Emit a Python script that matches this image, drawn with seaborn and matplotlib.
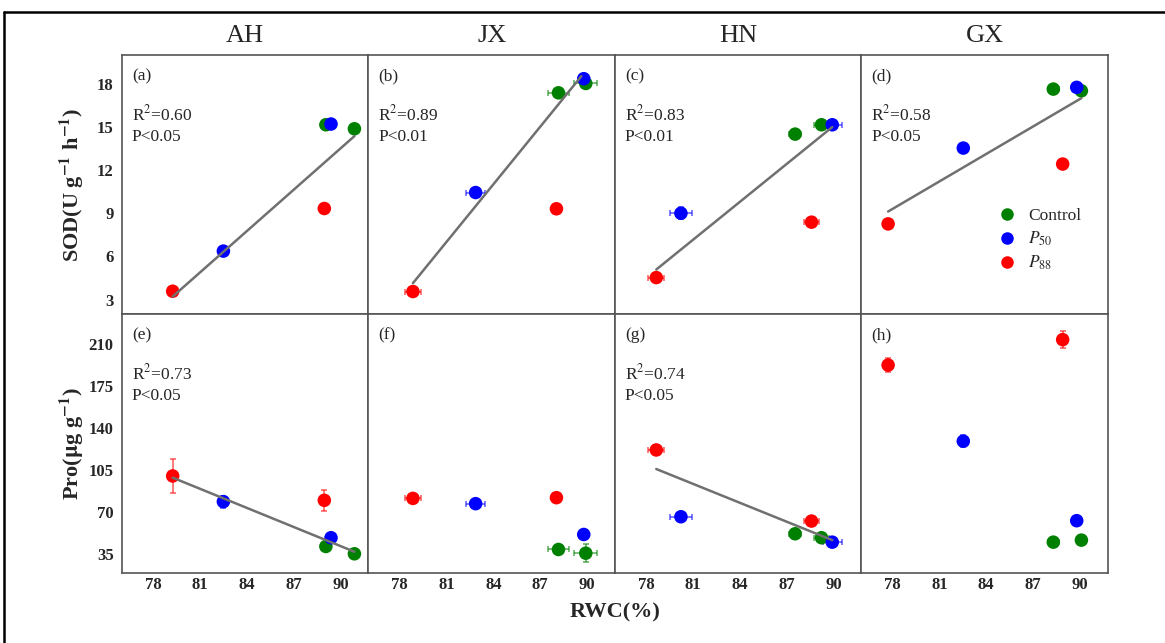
import numpy as np
import pandas as pd
import matplotlib
matplotlib.use("Agg")
import matplotlib.pyplot as plt
from matplotlib.lines import Line2D
import seaborn as sns

# ---------------- data ----------------
sites = ["AH", "JX", "HN", "GX"]
treatments = ["Control", "P50", "P88"]
legend_labels = ["Control", r"$P_{50}$", r"$P_{88}$"]
colors = ["#008000", "#0000ff", "#ff0000"]

# order inside each site: Control, Control, P50, P50, P88, P88
treatment_col = ["Control", "Control", "P50", "P50", "P88", "P88"]

rwc = [89.07, 90.90, 82.50, 89.40, 79.25, 88.97,   # AH
       88.18, 89.93, 82.87, 89.80, 78.85, 88.05,   # JX
       87.55, 89.24, 80.23, 89.93, 78.65, 88.60,   # HN
       88.30, 90.10, 82.53, 89.80, 77.71, 88.90]   # GX
rwc_err = [0.10, 0.10, 0.10, 0.10, 0.10, 0.10,
           0.65, 0.75, 0.60, 0.30, 0.50, 0.30,
           0.40, 0.45, 0.70, 0.60, 0.50, 0.45,
           0.35, 0.30, 0.30, 0.20, 0.30, 0.30]
sod = [15.15, 14.87, 6.37, 15.20, 3.58, 9.33,
       17.37, 18.02, 10.44, 18.35, 3.56, 9.31,
       14.50, 15.15, 9.00, 15.15, 4.53, 8.38,
       17.63, 17.51, 13.53, 17.75, 8.26, 12.42]
sod_err = [0.35, 0.10, 0.10, 0.20, 0.10, 0.10,
           0.15, 0.20, 0.25, 0.20, 0.15, 0.35,
           0.20, 0.15, 0.40, 0.10, 0.10, 0.35,
           0.15, 0.15, 0.20, 0.15, 0.35, 0.15]
pro = [41.1, 35.0, 78.5, 48.4, 99.9, 79.6,
       38.6, 35.5, 76.8, 51.1, 81.2, 81.8,
       51.7, 48.4, 65.9, 44.7, 121.6, 62.3,
       44.7, 46.4, 128.9, 62.6, 192.4, 213.6]
pro_err = [3.0, 1.5, 5.0, 2.0, 14.0, 8.5,
           2.0, 7.5, 4.0, 2.0, 2.0, 2.0,
           3.0, 2.0, 3.0, 3.0, 2.0, 3.0,
           2.0, 4.0, 5.0, 3.0, 6.0, 7.0]

# fitted regression lines (end points)
sod_fit_x = [(79.25, 90.90), (78.85, 89.65), (78.65, 89.93), (77.71, 90.10)]
sod_fit_y = [(3.21, 14.36), (4.14, 18.53), (5.09, 14.99), (9.12, 17.00)]
pro_fit_x = [(79.25, 90.90), None, (78.65, 89.93), None]
pro_fit_y = [(98.5, 36.7), None, (105.7, 46.4), None]

sod_r2 = ["0.60", "0.89", "0.83", "0.58"]
sod_p = ["P<0.05", "P<0.01", "P<0.01", "P<0.05"]
pro_r2 = ["0.73", None, "0.74", None]
pro_p = ["P<0.05", None, "P<0.05", None]

panel_letters = [["(a)", "(b)", "(c)", "(d)"], ["(e)", "(f)", "(g)", "(h)"]]
x_ticks = [78, 81, 84, 87, 90]
sod_ticks = [3, 6, 9, 12, 15, 18]
pro_ticks = [35, 70, 105, 140, 175, 210]

# ---------------- build table ----------------
df = pd.DataFrame({
    "site": np.repeat(sites, 6),
    "treatment": treatment_col * len(sites),
    "rwc": rwc, "rwc_err": rwc_err,
    "sod": sod, "sod_err": sod_err,
    "pro": pro, "pro_err": pro_err,
})

# ---------------- style ----------------
sns.set_style("white")
plt.rcParams["font.family"] = ["Liberation Serif", "DejaVu Serif"]
plt.rcParams["mathtext.fontset"] = "stix"
palette = dict(zip(treatments, colors))

fig = plt.figure(figsize=(11.65, 6.43), dpi=100)
axes = fig.subplots(2, 4, sharex=True)
fig.subplots_adjust(left=0.1047, right=0.951, top=0.9145, bottom=0.1089,
                    wspace=0, hspace=0)

rows = [("sod", "sod_err", sod_fit_x, sod_fit_y, sod_r2, sod_p, (2, 20), sod_ticks),
        ("pro", "pro_err", pro_fit_x, pro_fit_y, pro_r2, pro_p, (19, 235), pro_ticks)]

for r, (var, err, fx, fy, r2s, ps, ylim, yt) in enumerate(rows):
    for c, site in enumerate(sites):
        ax = axes[r, c]
        sub = df[df["site"] == site]
        for t in treatments:
            s = sub[sub["treatment"] == t]
            ax.errorbar(s["rwc"], s[var], xerr=s["rwc_err"], yerr=s[err],
                        fmt="none", ecolor=palette[t], alpha=0.6,
                        elinewidth=1.2, capsize=2.5, capthick=1.2, zorder=2)
        sns.scatterplot(data=sub, x="rwc", y=var, hue="treatment",
                        hue_order=treatments, palette=palette, s=95,
                        linewidth=0, ax=ax, legend=False, zorder=3)
        if fx[c] is not None:
            line_df = pd.DataFrame({"x": fx[c], "y": fy[c]})
            sns.lineplot(data=line_df, x="x", y="y", ax=ax, color="#707070",
                         linewidth=1.8, zorder=4)
            ax.text(0.04, 0.77, "R$^{2}$=" + r2s[c], transform=ax.transAxes,
                    fontsize=12.5, ha="left", va="center")
            ax.text(0.04, 0.685, ps[c], transform=ax.transAxes,
                    fontsize=12.5, ha="left", va="center")
        ax.text(0.04, 0.918, panel_letters[r][c], transform=ax.transAxes,
                fontsize=12.5, ha="left", va="center")

        ax.set_xlim(76, 91.8)
        ax.set_ylim(*ylim)
        ax.set_xticks(x_ticks)
        ax.set_yticks(yt)
        ax.set_xlabel("")
        ax.set_ylabel("")
        for sp in ax.spines.values():
            sp.set_color("#555555")
            sp.set_linewidth(1.2)
        ax.tick_params(axis="y", direction="out", length=3, width=1,
                       color="#555555", labelsize=12, pad=3)
        ax.tick_params(axis="x", direction="in", length=5, width=1,
                       color="#555555", labelsize=12, pad=3)
        if c > 0:
            ax.tick_params(axis="y", labelleft=False)
        if r == 0:
            ax.tick_params(axis="x", length=0)
            ax.set_title(site, fontsize=19, pad=9)
        for lab in ax.get_xticklabels() + ax.get_yticklabels():
            lab.set_fontweight("bold")

# legend in panel (d)
handles = [Line2D([0], [0], marker="o", linestyle="none", markersize=9,
                  markerfacecolor=col, markeredgewidth=0) for col in colors]
axes[0, 3].legend(handles, legend_labels, loc="center",
                  bbox_to_anchor=(0.72, 0.285), frameon=False, fontsize=12.5,
                  handletextpad=0.6, labelspacing=0.32, handlelength=1.2)

# axis labels
fig.text(0.062, 0.712, r"SOD(U g$^{\mathbf{-1}}$ h$^{\mathbf{-1}}$)", rotation=90,
         ha="center", va="center", fontsize=16, fontweight="bold")
fig.text(0.062, 0.31, r"Pro($\mathbf{\mu}$g g$^{\mathbf{-1}}$)", rotation=90,
         ha="center", va="center", fontsize=16, fontweight="bold")
fig.text(0.528, 0.048, "RWC(%)", ha="center", va="center",
         fontsize=16, fontweight="bold")

# outer frame
fig.add_artist(Line2D([4 / 1165, 1.0], [1 - 12 / 643, 1 - 12 / 643],
                      transform=fig.transFigure, color="black", linewidth=1.8))
fig.add_artist(Line2D([4 / 1165, 4 / 1165], [0.0, 1 - 12 / 643],
                      transform=fig.transFigure, color="black", linewidth=1.8))

fig.savefig("out.png", dpi=100)
